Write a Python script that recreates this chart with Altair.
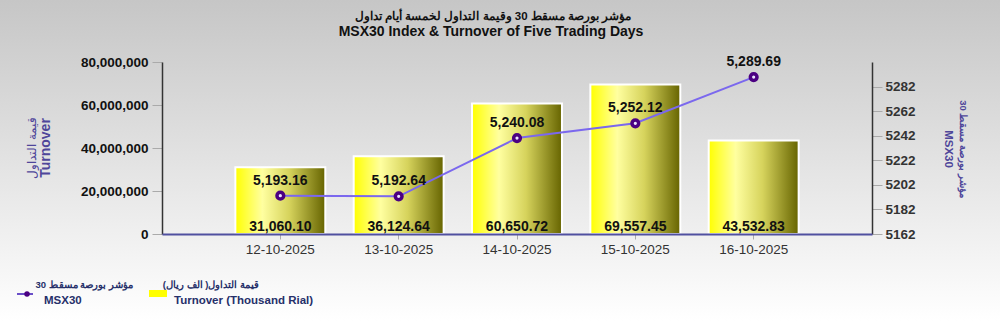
import altair as alt
import pandas as pd

dates = ["12-10-2025", "13-10-2025", "14-10-2025", "15-10-2025", "16-10-2025"]
turnover_k = [31060.10, 36124.64, 60650.72, 69557.45, 43532.83]
msx30 = [5193.16, 5192.64, 5240.08, 5252.12, 5289.69]
left_ticks = [0, 20000000, 40000000, 60000000, 80000000]
right_ticks = [5162, 5182, 5202, 5222, 5242, 5262, 5282]

title_ar = "مؤشر بورصة مسقط 30 وقيمة التداول لخمسة أيام تداول"
title_en = "MSX30 Index & Turnover of Five Trading Days"
left_title_ar = "قيمة التداول"
left_title_en = "Turnover"
right_title_ar = "مؤشر بورصة مسقط 30"
right_title_en = "MSX30"
leg1_ar = "\u202bمؤشر بورصة مسقط 30\u202c"
leg1_en = "MSX30"
leg2_ar = "\u202bقيمة التداول( الف ريال)\u202c"
leg2_en = "Turnover (Thousand Rial)"

FONT = "Liberation Sans"

df = pd.DataFrame({"date": dates, "turnover_k": turnover_k, "msx30": msx30})
df["turnover"] = df["turnover_k"] * 1000

x_axis = alt.Axis(title=None, labelAngle=0, labelFont=FONT, labelFontSize=13.5,
                  labelColor="#333333", domainColor="#5050a0", domainWidth=2,
                  tickColor="#aaaaaa", tickSize=5, labelPadding=3, grid=False, zindex=2)
x_scale = alt.Scale(paddingInner=0.24, paddingOuter=0.62)


def xe():
    return alt.X("date:N", sort=dates, scale=x_scale, axis=x_axis)


bar_grad = alt.Gradient(
    gradient="linear", x1=0, x2=1, y1=0, y2=0,
    stops=[alt.GradientStop(color="#ffff00", offset=0),
           alt.GradientStop(color="#ffffa0", offset=0.3),
           alt.GradientStop(color="#d6d35c", offset=0.6),
           alt.GradientStop(color="#666400", offset=1)],
)

base = alt.Chart(df)

left_scale = alt.Scale(domain=[0, 80000000], nice=False, zero=True)
left_axis = alt.Axis(values=left_ticks, format=",d", title=None,
                     labelFont=FONT, labelFontSize=13.5, labelFontWeight="bold",
                     labelColor="#111111", domainColor="#333333", domainWidth=1.5,
                     tickColor="#aaaaaa", tickSize=10, labelPadding=4, grid=False,
                     labelOverlap=False, zindex=1)
bars = base.mark_bar(color=bar_grad, stroke="white", strokeWidth=2).encode(
    x=xe(),
    y=alt.Y("turnover:Q", scale=left_scale, axis=left_axis),
)
bar_labels = base.mark_text(font=FONT, fontSize=14, fontWeight="bold", color="#111111",
                            baseline="alphabetic", dy=-3).encode(
    x=xe(),
    y=alt.Y(datum=0, scale=left_scale, axis=left_axis),
    text=alt.Text("turnover_k:Q", format=",.2f"),
)
left_layer = alt.layer(bars, bar_labels)

right_scale = alt.Scale(domain=[5162, 5302], nice=False, zero=False)
right_axis = alt.Axis(orient="right", values=right_ticks, format="d",
                      title=None, labelFont=FONT, labelFontSize=13.5,
                      labelFontWeight="bold", labelColor="#333333",
                      domainColor="#333333", domainWidth=1.5, tickColor="#aaaaaa",
                      tickSize=10, labelPadding=3, grid=False, labelOverlap=False,
                      zindex=1)
line = base.mark_line(color="#7b68ee", strokeWidth=2).encode(
    x=xe(),
    y=alt.Y("msx30:Q", scale=right_scale, axis=right_axis),
)
points = base.mark_point(filled=True, fill="#ece6ff", stroke="#4b0082", strokeWidth=3.5,
                         size=45, opacity=1).encode(
    x=xe(),
    y=alt.Y("msx30:Q", scale=right_scale, axis=right_axis),
)
line_labels = base.mark_text(font=FONT, fontSize=14, fontWeight="bold", color="#111111",
                             baseline="alphabetic", dy=-11).encode(
    x=xe(),
    y=alt.Y("msx30:Q", scale=right_scale, axis=right_axis),
    text=alt.Text("msx30:Q", format=",.2f"),
)
right_layer = alt.layer(line, points, line_labels)

# background gradient covering the whole canvas
dummy = alt.Data(values=[{"k": 1}])
bg_grad = alt.Gradient(
    gradient="linear", x1=0, x2=0, y1=0, y2=1,
    stops=[alt.GradientStop(color="#c6c6c6", offset=0),
           alt.GradientStop(color="#ffffff", offset=1)],
)
bg = alt.Chart(dummy).mark_rect(color=bg_grad).encode(
    x=alt.value(-162), x2=alt.value(838), y=alt.value(-62), y2=alt.value(259)
)


def txt(text, x, y, size, color, weight="bold", align="center", baseline="alphabetic", angle=0):
    return alt.Chart(dummy).mark_text(
        font=FONT, fontSize=size, fontWeight=weight, color=color, align=align,
        baseline=baseline, angle=angle,
    ).encode(x=alt.value(x), y=alt.value(y), text=alt.value(text))


# titles
t_ar = txt(title_ar, 331, -42, 11.5, "#111111")
t_en = txt(title_en, 329, -26, 14, "#111111")

# axis titles
axc = "#4f469a"
lt_ar = txt(left_title_ar, -130, 86, 12, axc, weight="normal", baseline="middle", angle=270)
lt_en = txt(left_title_en, -116, 86, 14, axc, baseline="middle", angle=270)
rt_ar = txt(right_title_ar, 801, 87, 9.5, axc, baseline="middle", angle=90)
rt_en = txt(right_title_en, 786, 87, 11.5, axc, baseline="middle", angle=90)

# manual legend
leg_color = "#26306a"
leg_line = alt.Chart(dummy).mark_rule(color="#6a4fc8", strokeWidth=2).encode(
    x=alt.value(-145), x2=alt.value(-129), y=alt.value(232))
leg_dot = alt.Chart(dummy).mark_point(filled=True, color="#4b0082", size=30, opacity=1).encode(
    x=alt.value(-135), y=alt.value(232))
leg_rect = alt.Chart(dummy).mark_rect(color="#ffff00").encode(
    x=alt.value(-13), x2=alt.value(5), y=alt.value(228), y2=alt.value(235))
leg_t1 = txt(leg1_ar, -29, 226, 9.5, leg_color, align="right")
leg_t2 = txt(leg1_en, -118, 242, 11.5, leg_color, align="left")
leg_t3 = txt(leg2_ar, 97, 226, 9.5, leg_color, align="right")
leg_t4 = txt(leg2_en, 12, 242, 11.5, leg_color, align="left")

chart = alt.layer(
    bg, left_layer, right_layer, t_ar, t_en, lt_ar, lt_en, rt_ar, rt_en,
    leg_line, leg_dot, leg_rect, leg_t1, leg_t2, leg_t3, leg_t4
).resolve_scale(y="independent").properties(
    width=710, height=172,
    padding={"left": 162, "top": 62, "right": 128, "bottom": 87},
    autosize=alt.AutoSizeParams(type="none"),
).configure_view(stroke=None).configure(background="#ffffff")

chart.save("out.html", embed_options={"renderer": "svg", "actions": False})
